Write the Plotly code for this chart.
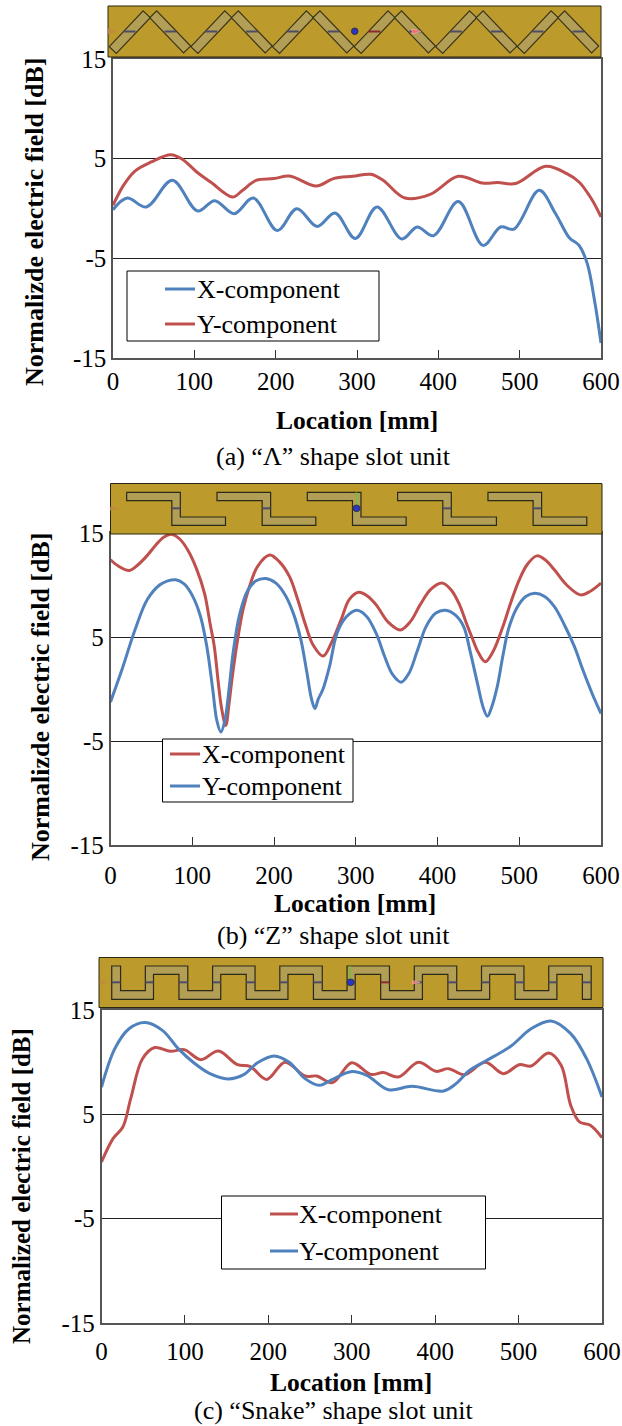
import plotly.graph_objects as go

W, H = 622, 1426
FONT = "Liberation Serif"
BLUE = "#4F81BD"
RED = "#C0504D"

# ---- data (panel a) ----
a_x_mm = [0,17.5,41,73,104,125,149,172.5,202,226,251,273,298,324.6,355,374,394,424.5,455,476.6,493,524,544,561,573,583,592.6,600]
a_x_db = [-0.12,1.05,0.15,2.83,-0.25,0.79,-0.52,1.05,-2.2,-0.02,-1.8,-0.45,-3,0.15,-3.06,-1.86,-2.73,0.69,-3.7,-1.86,-2.06,1.82,-0.5,-2.93,-3.7,-5.5,-9.5,-13.5]
a_y_mm = [0,12.7,27,47,71,86,103,120,147,159,176,198,217,250,271,295,317,332,359,390,424.5,454,473,495,532,558,573,588,600]
a_y_db = [0.32,2.3,3.76,4.67,5.4,4.9,3.66,2.66,1.15,1.8,2.83,3.0,3.26,2.26,3,3.23,3.43,2.83,1.05,1.42,3.23,2.56,2.6,2.5,4.23,3.5,2.66,1,-0.85]
# ---- data (panel b) ----
b_x_mm = [0,10,23,33,44.5,55,65,74.6,85,95,105,115,122,127,132,136,141,145,149,155,162,170,180,194.7,207,219,229,238,248,260,270,282,292,303.6,315,325,340,354.5,367,378.7,392,406,417,427,435,442,450,458.6,468,480,490,500,510,521.6,532,543,558,575,587,600]
b_x_db = [12.43,11.8,11.4,11.9,12.8,13.8,14.6,14.87,14.4,13.3,11.6,9.2,6.2,4.07,0.5,-1.9,-3.5,-1.4,1.2,4.5,7.6,9.85,11.8,12.88,12.2,10.8,8.6,6.3,4.2,3.17,4.4,6.64,8.6,9.3,8.9,8.09,6.4,5.68,6.5,8.09,9.6,10.18,9.5,8.09,6.4,5,3.5,2.62,3.6,6,8.4,10.5,12,12.8,12.4,11.46,10,9.05,9.4,10.18]
b_y_mm = [0,15,30,45,60,70,80,90,100,110,118,125,130,135,140,145,150,158,168,178,190,202,214,224,233,240,246,250,254,260,268,277,288,301,313,325,335,345,355.5,365,375,386,398,410,422,432,440,449,456,461,466,473,480,487,497,508,519,531,543,555,567.5,578,590,600]
b_y_db = [-1.24,2.1,5.7,8.6,10,10.4,10.5,10.1,9,7,4,0,-3,-4.13,-3,0,3.5,7.2,9.5,10.4,10.63,10.2,9,7.2,4.7,1.7,-1,-1.88,-1,0,2.2,5.35,6.9,7.57,7,5.35,3.2,1.4,0.66,1.5,3.6,6,7.3,7.57,7.1,6,3.6,0.5,-1.8,-2.62,-1.8,0.2,3.2,5.8,7.8,8.9,9.2,8.9,7.93,6.2,4.07,1.8,-0.6,-2.36]
# ---- data (panel c) ----
c_x_mm = [0,13.8,25.6,35,49,63.7,82.7,99,119,140,163,178,198,220,244,258,277,300,322.6,338,356,380,401,416,435,460,482,500.7,515,536,551,562.5,573,586,600]
c_x_db = [0.43,2.67,3.79,6.5,10.3,11.4,11.04,11.2,10.24,11.07,9.76,9.6,8.35,10.0,8.67,8.67,8.04,9.95,8.83,9,8.58,10.0,9.12,9.38,8.8,10,8.9,9.76,9.63,10.88,9.7,5.86,4.27,3.95,2.76]
c_y_mm = [0,16,33,52,73,92,111,130,151.5,170.5,187,207,225,244,261,277,299,318,344,372.4,410,425,441,460,491,515,539,562.5,581.5,600]
c_y_db = [7.62,11.3,13.2,13.8,13.05,11.3,9.92,8.9,8.39,8.8,9.95,10.6,10,8.42,7.78,8.35,9.09,8.74,7.36,7.68,7.24,7.94,9.2,10.08,11.55,13.2,13.95,12.73,10.34,6.66]

x_ticks = [0, 100, 200, 300, 400, 500, 600]
y_ticks = [-15, -5, 5, 15]
y_tick_text = ["-15", "-5", "5", "15"]
series_names = ["X-component", "Y-component"]
captions = ["(a) “Λ” shape slot unit", "(b) “Z” shape slot unit", "(c) “Snake” shape slot unit"]
y_titles = ["Normalizde electric field [dB]", "Normalizde electric field [dB]", "Normalized electric field [dB]"]
x_title = "Location [mm]"

# ---- layout in page pixels ----
px = lambda v: v / W
py = lambda v: 1 - v / H
PANELS = [
    dict(box=(113, 601, 59, 358), ytitle=(35, 222, 26), xtitle=(357, 421), cap=(333, 456), standoff=0,
         leg=(127, 379, 271, 341), samp=(165, 195, 195), rows=(289, 324)),
    dict(box=(110.5, 601, 533, 845), ytitle=(40, 697, 26), xtitle=(355, 903), cap=(333, 935), standoff=7,
         leg=(162.5, 353, 739, 802), samp=(170, 200, 200), rows=(754, 786)),
    dict(box=(101.5, 602, 1010, 1323), ytitle=(21, 1186, 25), xtitle=(351, 1382), cap=(333, 1410.5), standoff=5,
         leg=(221.5, 485.5, 1196, 1269), samp=(270, 298, 297), rows=(1214, 1251)),
]
traces = [
    [(a_x_mm, a_x_db, BLUE), (a_y_mm, a_y_db, RED)],
    [(b_x_mm, b_x_db, RED), (b_y_mm, b_y_db, BLUE)],
    [(c_x_mm, c_x_db, RED), (c_y_mm, c_y_db, BLUE)],
]

fig = go.Figure()
shapes, annos = [], []


def rect(x0, x1, y0, y1, fill, line="black", lw=1):
    shapes.append(dict(type="rect", xref="paper", yref="paper", x0=px(x0), x1=px(x1), y0=py(y1), y1=py(y0),
                       fillcolor=fill, line=dict(color=line, width=lw), layer="above"))


def seg(x0, y0, x1, y1, color, lw):
    shapes.append(dict(type="line", xref="paper", yref="paper", x0=px(x0), x1=px(x1), y0=py(y0), y1=py(y1),
                       line=dict(color=color, width=lw), layer="above"))


def poly(points, fill, line="#3a3418", lw=1.2):
    d = "M " + " L ".join(f"{px(x):.5f},{py(y):.5f}" for x, y in points) + " Z"
    shapes.append(dict(type="path", xref="paper", yref="paper", path=d, fillcolor=fill,
                       line=dict(color=line, width=lw), layer="above"))


def text(x, y, s, size, bold=False, anchor="center", angle=0):
    annos.append(dict(xref="paper", yref="paper", x=px(x), y=py(y), text=f"<b>{s}</b>" if bold else s,
                      showarrow=False, xanchor=anchor, yanchor="middle", textangle=angle,
                      font=dict(family=FONT, size=size, color="black")))


for i, p in enumerate(PANELS):
    n = i + 1
    xa, ya = ("xaxis", "yaxis") if n == 1 else (f"xaxis{n}", f"yaxis{n}")
    x0, x1, y0, y1 = p["box"]
    for j, (xs, ys, col) in enumerate(traces[i]):
        fig.add_trace(go.Scatter(x=xs, y=ys, mode="lines", name=series_names[j], showlegend=False,
                                 line=dict(color=col, width=3, shape="spline", smoothing=1.0),
                                 xaxis=f"x{n}", yaxis=f"y{n}"))
    fig.update_layout({
        xa: dict(domain=[px(x0), px(x1)], range=[0, 600], tickvals=x_ticks, ticks="inside", ticklen=8,
                 tickcolor="#333", tickwidth=1, showgrid=False, zeroline=False, showline=True, mirror=True,
                 linecolor="#555", linewidth=1.5, anchor=f"y{n}", ticklabelstandoff=p["standoff"],
                 tickfont=dict(family=FONT, size=25, color="black")),
        ya: dict(domain=[py(y1), py(y0)], range=[-15, 15], tickvals=y_ticks, ticktext=y_tick_text, ticks="",
                 showgrid=True, gridcolor="#222", gridwidth=1, zeroline=False, showline=True, mirror=True,
                 linecolor="#555", linewidth=1.5, anchor=f"x{n}",
                 tickfont=dict(family=FONT, size=25, color="black")),
    })
    text(p["ytitle"][0], p["ytitle"][1], y_titles[i], p["ytitle"][2], bold=True, angle=-90)
    text(p["xtitle"][0], p["xtitle"][1], x_title, 25.5, bold=True)
    text(p["cap"][0], p["cap"][1], captions[i], 26)
    lx0, lx1, ly0, ly1 = p["leg"]
    rect(lx0, lx1, ly0, ly1, "white", "black", 1)
    sx0, sx1, tx = p["samp"]
    for j, row in enumerate(p["rows"]):
        seg(sx0, row, sx1, row, traces[i][j][2], 3)
        text(tx, row, series_names[j], 26, anchor="left")

GOLD = "#BC9A2B"
SLOT = "#B39E56"
BAR = "#4C4C68"

# ---- strip a: zigzag of tilted slots ----
rect(108, 601, 6, 57, GOLD, "#2a2610", 1)
leg_w = 4.9
for k in range(6):
    off = 81.6 * k
    for (ax, ay, bx, by) in [(112.8, 50, 146.7, 14.3), (153.2, 14.3, 187.1, 49.5)]:
        dx, dy = bx - ax, by - ay
        L = (dx * dx + dy * dy) ** 0.5
        nx, ny = -dy / L * leg_w, dx / L * leg_w
        poly([(ax + off + nx, ay + ny), (bx + off + nx, by + ny), (bx + off - nx, by - ny), (ax + off - nx, ay - ny)], SLOT)
    col = "#8a2b30" if k == 3 else BAR
    seg(123.5 + off, 31.5, 135.5 + off, 31.5, col, 2)
    seg(164.5 + off, 31.5, 176 + off, 31.5, BAR, 2)
poly([(108.5, 28.5), (116.5, 31.5), (108.5, 34)], "#C08A40", "#C08A40", 0.5)
poly([(412, 29), (421, 31.5), (412, 34)], "#F06A70", "#F9C0C0", 0.5)
shapes.append(dict(type="circle", xref="paper", yref="paper", x0=px(351.5), x1=px(358), y0=py(34.5), y1=py(28),
                   fillcolor="#2A35C8", line=dict(color="#333", width=1), layer="above"))

# ---- strip b: Z slots ----
rect(110.5, 602, 483.5, 534, GOLD, "#2a2610", 1)
zx = lambda v: 90 + v / 2.945
zy = lambda v: 475 + v / 3
Z_SHAPE = [(108, 52), (266, 52), (266, 126), (399, 126), (399, 151), (241, 151), (241, 77), (108, 77)]
for k in range(5):
    poly([(zx(a + 266 * k), zy(b)) for a, b in Z_SHAPE], SLOT, "#2a2a1a", 1.2)
    seg(zx(241 + 266 * k), zy(100), zx(266 + 266 * k), zy(100), BAR, 2)
seg(zx(785), zy(52), zx(785), zy(95), "#6FBF3A", 1.5)
shapes.append(dict(type="circle", xref="paper", yref="paper", x0=px(zx(775)), x1=px(zx(795)), y0=py(zy(110)), y1=py(zy(90)),
                   fillcolor="#2A35C8", line=dict(color="#333", width=1), layer="above"))
poly([(zx(60), zy(96)), (zx(84), zy(101)), (zx(60), zy(106))], "#C08A40", "#C08A40", 0.5)

# ---- strip c: snake slot ----
rect(99, 603, 957.5, 1007.5, GOLD, "#2a2610", 1)
cx = lambda v: 90 + v / 2.945
cy = lambda v: 950 + v / 3
outer = [(64, 48), (64, 148)]
for k in range(7):
    o = 198 * k
    outer += [(187 + o, 148), (187 + o, 73), (262 + o, 73)]
    if k < 6:
        outer += [(262 + o, 148)]
    else:
        outer = outer[:-1] + [(1450, 73), (1450, 148), (1476, 148), (1476, 48)]
for k in range(6, -1, -1):
    o = 198 * k
    outer += [(163 + o, 48), (163 + o, 122), (90 + o, 122), (90 + o, 48)]
poly([(cx(a), cy(b)) for a, b in outer], SLOT, "#2a2a1a", 1.2)
for k in range(8):
    o = 198 * k
    seg(cx(64 + o), cy(97), cx(90 + o), cy(97), "#8a2b30" if k == 4 else BAR, 2)
    if k < 7:
        seg(cx(163 + o), cy(97), cx(187 + o), cy(97), BAR, 2)
seg(cx(766), cy(48), cx(766), cy(90), "#6FBF3A", 1.5)
shapes.append(dict(type="circle", xref="paper", yref="paper", x0=px(cx(757)), x1=px(cx(778)), y0=py(cy(107)), y1=py(cy(87)),
                   fillcolor="#2A35C8", line=dict(color="#333", width=1), layer="above"))
poly([(cx(30), cy(92)), (cx(48), cy(97)), (cx(30), cy(102))], "#C08A40", "#C08A40", 0.5)
poly([(cx(950), cy(92)), (cx(972), cy(97)), (cx(950), cy(102))], "#F06A70", "#F9C0C0", 0.5)

fig.update_layout(width=W, height=H, autosize=False, margin=dict(l=0, r=0, t=0, b=0, autoexpand=False),
                  paper_bgcolor="white", plot_bgcolor="white", showlegend=False,
                  shapes=shapes, annotations=annos)
fig.write_html("out.html", post_script="document.body.style.margin='0';",
               config=dict(displayModeBar=False))
